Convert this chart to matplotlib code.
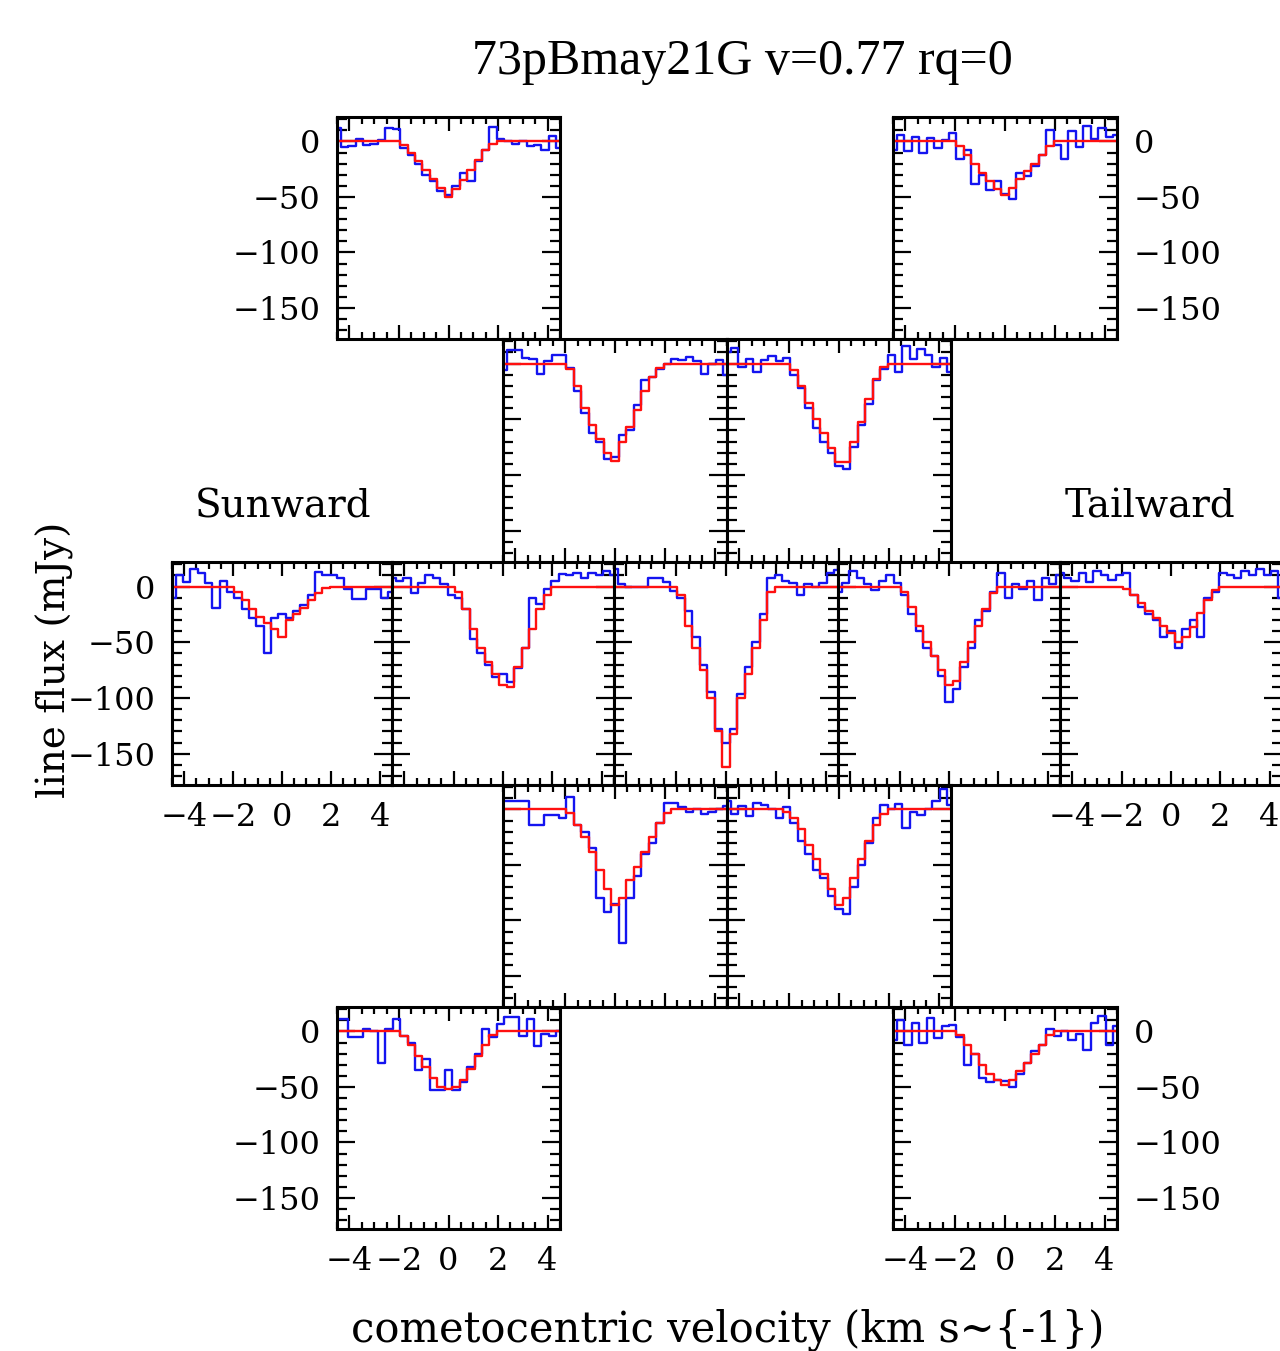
import numpy as np
import matplotlib
matplotlib.use("Agg")
import matplotlib.pyplot as plt
from matplotlib.ticker import MultipleLocator

plt.rcParams['font.family'] = ['DejaVu Serif']

# channel velocities (km/s)
velocity = np.arange(-15, 16) * 0.3

# ---- data: red = model, blue = observed (mJy) ----
tl_red  = [0,0,0,0,0,0,0,0,0,-3,-10,-18,-26,-34,-42,-50,-43,-35,-26,-17,-8,-2,0,0,0,0,0,0,0,0,0]
tl_blue = [12,-5,-4,2,-3,-2,1,12,11,-6,-12,-20,-30,-36,-45,-48,-40,-28,-36,-18,-8,13,2,0,-2,0,-4,-3,-8,5,-6]

tr_red  = [0,0,0,0,0,0,0,0,0,-4,-12,-20,-28,-36,-43,-48,-42,-34,-27,-20,-12,-4,0,0,0,0,0,0,0,0,0]
tr_blue = [-8,6,-9,4,-10,3,-6,1,8,-16,-8,-38,-30,-44,-36,-47,-52,-28,-31,-22,-12,10,-3,-16,9,-5,14,2,12,4,6]

r2l_red  = [0,0,0,0,0,0,0,0,0,-5,-20,-40,-55,-68,-80,-87,-70,-57,-42,-25,-12,-4,0,0,0,0,0,0,0,0,0]
r2l_blue = [-6,12,12,5,4,-9,2,8,8,-4,-25,-44,-62,-70,-86,-84,-64,-60,-37,-15,-12,-5,0,4,3,6,2,-9,0,3,-10]

r2r_red  = [0,0,0,0,0,0,0,0,0,-6,-20,-35,-50,-62,-76,-88,-88,-70,-52,-32,-14,-3,0,0,0,0,0,0,0,0,0]
r2r_blue = [10,14,-3,4,-8,3,7,2,5,-10,-22,-40,-58,-70,-80,-92,-95,-75,-55,-36,-15,-5,8,-8,16,4,13,8,-3,5,-8]

m1_red  = [0,0,0,0,0,0,0,0,0,-5,-12,-20,-27,-33,-38,-45,-30,-25,-19,-12,-6,-1,0,0,0,0,0,0,0,0,0]
m1_blue = [-10,10,4,16,12,3,-19,5,-5,-10,-20,-28,-35,-60,-28,-25,-28,-22,-17,-8,13,10,10,8,-2,-11,-11,-2,-2,-10,-5]

m2_red  = [0,0,0,0,0,0,0,0,0,-5,-20,-38,-55,-68,-78,-88,-90,-72,-55,-38,-20,-8,0,0,0,0,0,0,0,0,0]
m2_blue = [8,5,8,-6,3,10,8,2,-8,-10,-20,-47,-60,-70,-81,-78,-86,-73,-55,-10,-16,-2,5,11,10,12,8,12,10,14,10]

m3_red  = [0,0,0,0,0,0,0,0,0,-8,-35,-55,-75,-100,-130,-162,-132,-100,-78,-55,-30,-5,0,0,0,0,0,0,0,0,0]
m3_blue = [16,2,0,0,0,8,8,4,-4,-10,-22,-45,-70,-95,-128,-140,-128,-96,-72,-50,-25,8,10,5,3,-8,2,0,3,12,15]

m4_red  = [0,0,0,0,0,0,0,0,0,-5,-18,-35,-50,-62,-75,-88,-85,-68,-50,-35,-20,-6,0,0,0,0,0,0,0,0,0]
m4_blue = [-5,3,14,8,2,-3,5,10,3,-8,-25,-40,-55,-62,-80,-104,-92,-72,-55,-30,-22,-5,12,-10,2,-2,5,-12,8,2,10]

m5_red  = [0,0,0,0,0,0,0,0,0,-2,-8,-15,-22,-28,-35,-42,-50,-45,-36,-24,-12,-3,0,0,0,0,0,0,0,0,0]
m5_blue = [12,8,5,12,4,14,10,6,10,12,-8,-18,-25,-30,-45,-40,-55,-38,-30,-45,-10,-5,12,10,8,14,10,16,10,14,-10]

r4l_red  = [0,0,0,0,0,0,0,0,0,-3,-14,-25,-38,-55,-72,-86,-80,-64,-52,-38,-25,-12,-3,0,0,0,0,0,0,0,0]
r4l_blue = [8,8,8,8,-14,-14,-5,-5,-8,11,-14,-20,-35,-80,-92,-85,-120,-80,-60,-40,-30,-12,6,6,2,-2,0,-4,-2,0,3]

r4r_red  = [0,0,0,0,0,0,0,0,-2,-8,-18,-32,-45,-58,-72,-86,-80,-62,-45,-28,-14,-4,0,0,0,0,0,0,0,0,0]
r4r_blue = [8,-4,3,-6,6,4,0,-8,2,-12,-28,-40,-55,-62,-78,-90,-94,-70,-50,-30,-8,4,0,5,-17,-2,-5,0,8,18,4]

bl_red  = [0,0,0,0,0,0,0,0,0,-4,-12,-22,-32,-42,-50,-52,-50,-44,-34,-22,-12,-3,0,0,0,0,0,0,0,0,0]
bl_blue = [11,11,-5,-5,2,0,-28,2,11,-4,-10,-35,-25,-53,-53,-35,-53,-46,-32,-20,2,-5,7,13,13,-4,11,-13,-2,-4,0]

br_red  = [0,0,0,0,0,0,0,0,0,-3,-12,-20,-30,-38,-44,-48,-44,-36,-28,-20,-12,-3,0,0,0,0,0,0,0,0,0]
br_blue = [-8,10,-12,8,-10,12,-6,5,6,-5,-30,-20,-42,-46,-44,-45,-50,-38,-28,-18,-12,2,-4,0,-8,-2,-17,8,14,-12,5]

xtick_vals = [-4, -2, 0, 2, 4]
ytick_vals = [0, -50, -100, -150]

W, H = 1280, 1351
fig = plt.figure(figsize=(W / 100, H / 100), dpi=100)

# (x0, x1, ytop, ybottom, red, blue, ylabels side, xlabels)
panels = [
    (337, 560, 117, 339, tl_red, tl_blue, 'left', False),
    (893, 1117, 117, 339, tr_red, tr_blue, 'right', False),
    (503, 727, 339, 562, r2l_red, r2l_blue, None, False),
    (727, 951, 339, 562, r2r_red, r2r_blue, None, False),
    (172, 392, 562, 785, m1_red, m1_blue, 'left', True),
    (392, 614, 562, 785, m2_red, m2_blue, None, False),
    (614, 838, 562, 785, m3_red, m3_blue, None, False),
    (838, 1060, 562, 785, m4_red, m4_blue, None, False),
    (1060, 1282, 562, 785, m5_red, m5_blue, None, True),
    (503, 727, 785, 1007, r4l_red, r4l_blue, None, False),
    (727, 951, 785, 1007, r4r_red, r4r_blue, None, False),
    (337, 560, 1007, 1229, bl_red, bl_blue, 'left', True),
    (893, 1117, 1007, 1229, br_red, br_blue, 'right', True),
]

tick_font = 23
for (x0, x1, yt, yb, red, blue, yside, xlab) in panels:
    ax = fig.add_axes([x0 / W, 1 - yb / H, (x1 - x0) / W, (yb - yt) / H])
    ax.step(velocity, blue, where='mid', color='#1414f0', lw=1.7)
    ax.step(velocity, red, where='mid', color='#ff1010', lw=1.7)
    ax.set_xlim(-4.5, 4.5)
    ax.set_ylim(-178, 22)
    ax.set_xticks(xtick_vals)
    ax.set_yticks(ytick_vals)
    ax.xaxis.set_minor_locator(MultipleLocator(0.5))
    ax.yaxis.set_minor_locator(MultipleLocator(10))
    for s in ax.spines.values():
        s.set_linewidth(2.2)
    ax.tick_params(axis='both', which='both', direction='in', top=True, bottom=True,
                   left=True, right=True, width=1.6, labelsize=tick_font, pad=12)
    ax.tick_params(axis='y', which='major', length=13)
    ax.tick_params(axis='y', which='minor', length=7)
    ax.tick_params(axis='x', which='major', length=10)
    ax.tick_params(axis='x', which='minor', length=5)
    ax.tick_params(axis='y', labelleft=(yside == 'left'), labelright=(yside == 'right'))
    ax.tick_params(axis='x', labelbottom=xlab, labeltop=False)

fig.text(742 / W, 1 - 62 / H, '73pBmay21G v=0.77 rq=0', ha='center', va='center',
         fontsize=36, family='Liberation Serif')
fig.text(283 / W, 1 - 507 / H, 'Sunward', ha='center', va='center', fontsize=28)
fig.text(1150 / W, 1 - 507 / H, 'Tailward', ha='center', va='center', fontsize=28)
fig.text(55 / W, 1 - 660 / H, 'line flux (mJy)', ha='center', va='center',
         rotation=90, fontsize=28)
fig.text(728 / W, 1 - 1330 / H, 'cometocentric velocity (km s~{-1})', ha='center',
         va='center', fontsize=30)

fig.savefig('out.png', dpi=100, facecolor='white')
